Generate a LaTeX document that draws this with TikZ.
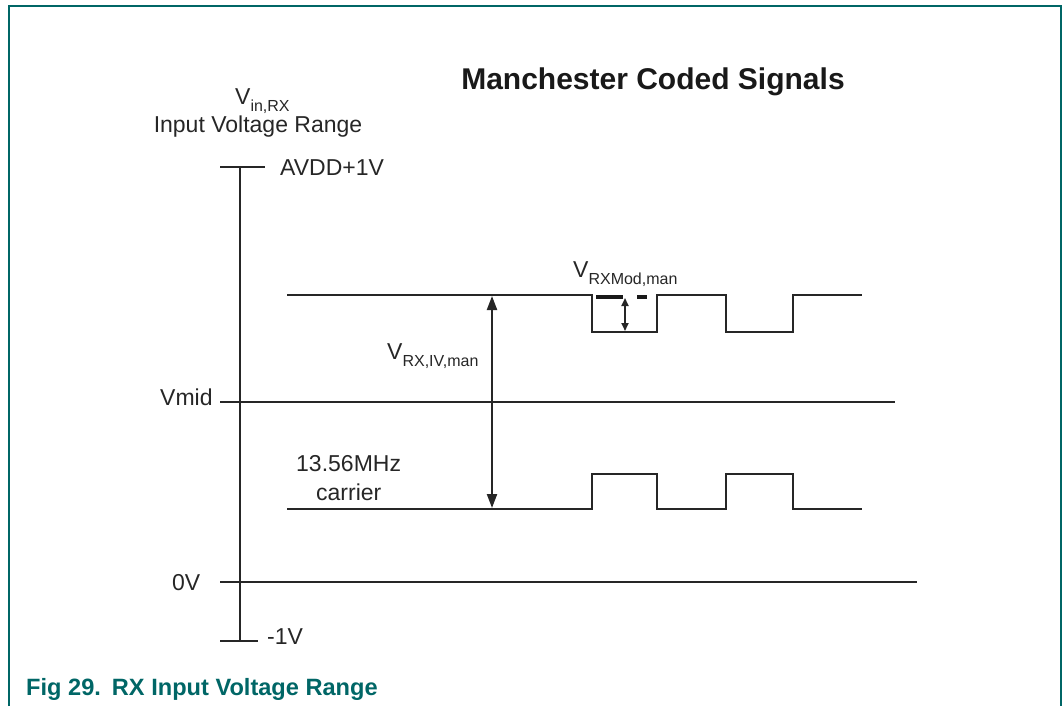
\documentclass[tikz,border=0pt]{standalone}
\usepackage{fontspec}
\setmainfont{Liberation Sans}
\usetikzlibrary{arrows.meta}
\definecolor{nxpteal}{RGB}{0,102,102}
\newcommand{\lbl}{\fontsize{23}{27}\selectfont}
\newcommand{\sublbl}[1]{\raisebox{-7pt}{\fontsize{16}{18}\selectfont #1}}
\begin{document}
\begin{tikzpicture}[x=1pt,y=-1pt,
  wire/.style={line width=2.5pt,black!85},
  frame/.style={line width=1.8pt,nxpteal},
  txt/.style={inner sep=0pt,anchor=base west,text=black!85,font=\lbl},
  dim/.style={line width=2.2pt,black!85,{Triangle[length=14pt,width=10pt]}-{Triangle[length=14pt,width=10pt]}},
  dimsmall/.style={line width=1.8pt,black!85,{Triangle[length=8pt,width=7pt]}-{Triangle[length=8pt,width=7pt]}}]
\useasboundingbox (0,0) rectangle (1064,706);
% frame
\draw[frame] (9,706) -- (9,6) -- (1061,6) -- (1061,706);
% axis
\draw[wire] (240,167) -- (240,641);
\draw[wire] (220,167) -- (265,167);
\draw[wire] (220,641) -- (258,641);
\draw[wire] (220,402) -- (895,402);
\draw[wire] (220,582) -- (917,582);
% signals
\draw[wire] (287,295) -- (592,295) -- (592,332) -- (657,332) -- (657,295) -- (726,295) -- (726,332) -- (793,332) -- (793,295) -- (862,295);
\draw[wire] (287,509) -- (592,509) -- (592,474) -- (657,474) -- (657,509) -- (726,509) -- (726,474) -- (793,474) -- (793,509) -- (862,509);
% dimension arrows
\coordinate (ivtop) at (492,296);
\coordinate (ivbot) at (492,508);
\draw[dim] (ivtop) -- (ivbot);
\coordinate (modtop) at (625,298);
\coordinate (modbot) at (625,331);
\draw[dimsmall] (modtop) -- (modbot);
\draw[line width=4pt,black!90] (596,297) -- (623,297);
\draw[line width=4pt,black!90] (637,297) -- (647,297);
% texts
\node[inner sep=0pt,anchor=base,font=\fontsize{30}{34}\selectfont\bfseries,text=black!90] (title) at (653,90) {Manchester Coded Signals};
\node[txt] (vin) at (235,105) {V\sublbl{in,RX}};
\node[txt,anchor=base] (ivr) at (258,132) {Input Voltage Range};
\node[txt] (avdd) at (280,175) {AVDD+1V};
\node[txt] (vmid) at (160,405) {Vmid};
\node[txt] (vrxiv) at (387,359) {V\sublbl{RX,IV,man}};
\node[txt] (mhz) at (296,471) {13.56MHz};
\node[txt] (carrier) at (316,500) {carrier};
\node[txt] (zero) at (172,590) {0V};
\node[txt] (minus) at (267,644) {-1V};
\node[txt] (vmod) at (573,277) {V\sublbl{RXMod,man}};
\node[inner sep=0pt,anchor=base west,font=\fontsize{23.6}{27}\selectfont\bfseries,text=nxpteal] (cap) at (26,695) {Fig 29.\hspace{11pt}RX Input Voltage Range};
\end{tikzpicture}
\end{document}
